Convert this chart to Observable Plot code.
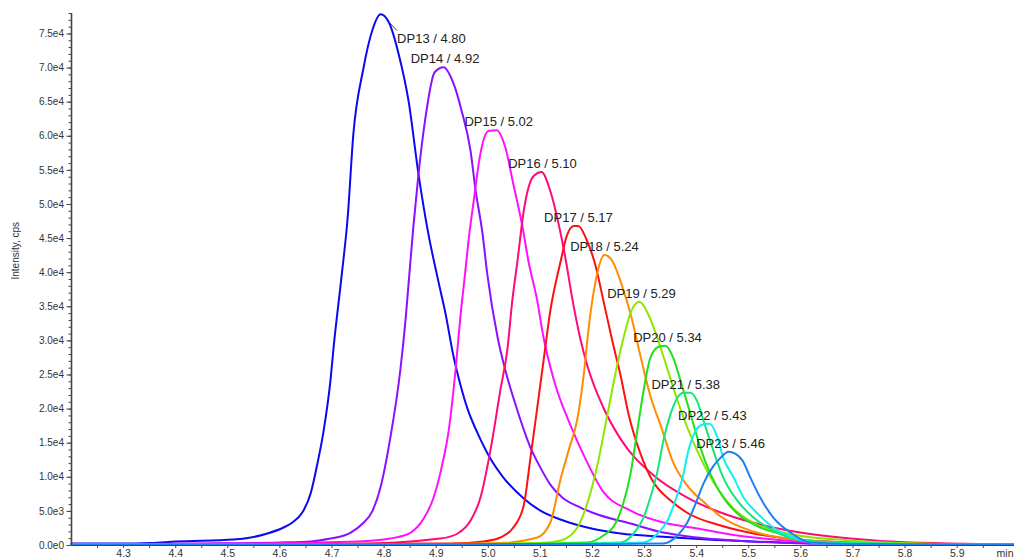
<!DOCTYPE html>
<html>
<head>
<meta charset="utf-8">
<script src="https://cdn.jsdelivr.net/npm/d3@7"></script>
<script src="https://cdn.jsdelivr.net/npm/@observablehq/plot@0.6"></script>
<style>
  html, body { margin: 0; padding: 0; background: #fff; overflow: hidden; }
  #chart svg { display: block; overflow: visible; }
</style>
</head>
<body>
<div id="chart"></div>
<script>
// ---- Series names, colours and retention-time labels ----
const seriesNames = ["DP13","DP14","DP15","DP16","DP17","DP18","DP19","DP20","DP21","DP22","DP23"];
const seriesColors = ["#0a0af0","#8a10ff","#ff10ff","#ff0a78","#ff1010","#ff8c00","#8ee600","#1ee01e","#10e878","#10f0f0","#1e80f0"];
const rtLabels = ["4.80","4.92","5.02","5.10","5.17","5.24","5.29","5.34","5.38","5.43","5.46"];
// label anchor (apex) positions
const apexTime = [4.793, 4.917, 5.020, 5.104, 5.173, 5.223, 5.294, 5.344, 5.379, 5.430, 5.465];
const apexHeight = [77880, 70130, 60900, 54750, 46850, 42600, 35720, 29280, 22400, 17860, 13760];

// ---- Chromatogram traces: [time (min), intensity (cps)] ----
const dp13 = [[4.200,290],[4.294,290],[4.352,370],[4.400,590],[4.511,880],[4.544,1170],[4.576,1760],[4.607,2640],[4.624,3370],[4.643,4830],[4.659,7610],[4.672,12000],[4.684,16840],[4.697,24160],[4.703,28990],[4.718,39240],[4.730,48020],[4.741,60320],[4.760,69830],[4.778,75690],[4.793,77880],[4.810,76570],[4.828,72030],[4.847,65150],[4.866,54460],[4.885,45680],[4.904,38800],[4.918,33960],[4.933,27820],[4.947,23420],[4.960,20060],[4.979,16540],[5.004,12740],[5.029,9960],[5.068,6900],[5.100,5100],[5.144,3660],[5.190,2640],[5.254,1750],[5.336,1300],[5.465,730],[5.599,370],[5.800,220],[6.010,150]];
const dp14 = [[4.200,150],[4.448,290],[4.601,440],[4.659,590],[4.697,1020],[4.736,1900],[4.759,3220],[4.778,5120],[4.793,8490],[4.812,15810],[4.831,25620],[4.841,32940],[4.849,40260],[4.856,46560],[4.866,54460],[4.879,62510],[4.897,69390],[4.914,70130],[4.933,67780],[4.949,63680],[4.966,57830],[4.975,52410],[4.989,45680],[4.998,39820],[5.018,30450],[5.033,25620],[5.056,19760],[5.081,14350],[5.100,11420],[5.119,8930],[5.142,7030],[5.177,5560],[5.210,4540],[5.273,3220],[5.336,1900],[5.402,1170],[5.503,590],[5.657,220],[6.010,150]];
const dp15 = [[4.200,150],[4.544,290],[4.749,590],[4.812,1020],[4.851,1900],[4.876,3950],[4.895,7030],[4.912,12000],[4.924,16840],[4.937,25620],[4.947,33960],[4.956,40260],[4.962,44650],[4.972,50510],[4.983,56660],[5.000,60760],[5.016,60900],[5.033,58270],[5.048,53000],[5.066,46560],[5.077,41720],[5.094,35870],[5.106,30500],[5.125,24500],[5.158,17570],[5.190,12150],[5.219,8050],[5.273,5120],[5.336,3370],[5.402,2490],[5.465,1610],[5.528,1020],[5.593,590],[5.695,220],[6.010,150]];
const dp16 = [[4.200,150],[4.735,220],[4.908,1020],[4.941,1760],[4.966,3660],[4.985,7030],[5.004,13910],[5.023,22690],[5.037,28990],[5.046,35870],[5.056,41720],[5.068,49040],[5.087,54170],[5.102,54750],[5.119,51970],[5.135,47140],[5.148,42160],[5.162,35870],[5.177,30200],[5.190,26400],[5.221,20200],[5.254,15600],[5.317,10300],[5.382,7030],[5.446,4830],[5.522,3070],[5.599,1900],[5.695,1020],[5.791,510],[6.010,150]];
const dp17 = [[4.200,150],[4.927,290],[4.991,590],[5.023,1170],[5.048,2640],[5.068,5860],[5.081,12880],[5.094,20200],[5.106,27080],[5.119,34400],[5.139,41720],[5.150,45240],[5.164,46850],[5.173,46850],[5.188,44940],[5.206,40990],[5.221,35870],[5.238,30010],[5.254,24890],[5.269,19320],[5.292,13470],[5.315,9520],[5.350,6590],[5.384,4690],[5.446,2930],[5.509,1760],[5.574,1020],[5.695,440],[6.010,150]];
const dp18 = [[4.200,150],[4.832,220],[5.023,370],[5.094,1170],[5.119,3370],[5.139,9810],[5.154,13910],[5.171,18590],[5.183,24890],[5.192,31480],[5.206,38800],[5.223,42600],[5.238,41720],[5.258,37770],[5.273,33970],[5.292,27820],[5.311,21960],[5.331,17570],[5.355,12150],[5.382,8780],[5.417,6150],[5.446,4250],[5.509,2050],[5.574,1020],[5.695,440],[6.010,150]];
const dp19 = [[4.200,150],[4.927,220],[5.100,370],[5.139,730],[5.171,2640],[5.190,6150],[5.210,12000],[5.229,19330],[5.248,26650],[5.263,31480],[5.273,34110],[5.290,35720],[5.307,33900],[5.325,30300],[5.340,26800],[5.363,21300],[5.382,17300],[5.407,12900],[5.432,9300],[5.471,5400],[5.509,3300],[5.574,1760],[5.695,730],[5.830,290],[6.010,150]];
const dp20 = [[4.200,150],[5.023,220],[5.190,440],[5.221,1460],[5.244,3220],[5.259,6150],[5.273,10540],[5.286,16840],[5.298,22690],[5.311,27520],[5.327,29130],[5.340,29280],[5.355,27520],[5.369,24160],[5.388,19330],[5.407,14350],[5.426,10540],[5.451,7030],[5.478,4690],[5.522,2640],[5.574,1460],[5.638,440],[5.800,220],[6.010,150]];
const dp21 = [[4.200,150],[5.100,220],[5.254,440],[5.279,1760],[5.298,4100],[5.311,7030],[5.325,10980],[5.336,15370],[5.350,19330],[5.363,21670],[5.375,22400],[5.388,22400],[5.402,20940],[5.413,18300],[5.432,13910],[5.451,9960],[5.478,6590],[5.509,4100],[5.547,2200],[5.605,730],[5.800,220],[6.010,150]];
const dp22 = [[4.200,150],[5.150,220],[5.298,440],[5.325,1760],[5.344,3660],[5.359,6590],[5.373,9960],[5.384,13910],[5.398,16840],[5.411,17710],[5.425,17860],[5.440,15810],[5.451,12880],[5.471,9960],[5.490,7030],[5.517,4690],[5.547,2640],[5.586,1170],[5.638,290],[6.010,150]];
const dp23 = [[4.200,150],[5.200,220],[5.336,290],[5.363,1460],[5.382,3370],[5.398,6150],[5.413,9080],[5.430,11420],[5.446,12880],[5.461,13760],[5.474,13470],[5.488,12440],[5.503,9960],[5.522,7030],[5.547,4100],[5.580,1900],[5.618,440],[5.695,220],[6.010,150]];

// ---- Axis ticks ----
const xTicks = [4.3,4.4,4.5,4.6,4.7,4.8,4.9,5.0,5.1,5.2,5.3,5.4,5.5,5.6,5.7,5.8,5.9];
const xMinorTicks = [4.25,4.35,4.45,4.55,4.65,4.75,4.85,4.95,5.05,5.15,5.25,5.35,5.45,5.55,5.65,5.75,5.85,5.95];
const yTicks = [0,5000,10000,15000,20000,25000,30000,35000,40000,45000,50000,55000,60000,65000,70000,75000];
const yMinorTicks = d3.range(0, 78001, 1000);

const traces = [dp13, dp14, dp15, dp16, dp17, dp18, dp19, dp20, dp21, dp22, dp23];
const rows = traces.flatMap((tr, i) => tr.map(([t, v]) => ({name: seriesNames[i], t, v})));
const peaks = seriesNames.map((n, i) => ({name: n, t: apexTime[i], v: apexHeight[i], label: `${n} / ${rtLabels[i]}`}));

const fmtY = d => d3.format(".1e")(d).replace("+", "");
const font = "Liberation Sans, Arial, sans-serif";

const chart = Plot.plot({
  width: 1014,
  height: 560,
  marginLeft: 71,
  marginRight: 0,
  marginTop: 13,
  marginBottom: 15,
  style: {fontFamily: font, color: "#333", background: "#fff"},
  x: {domain: [4.2, 6.01]},
  y: {domain: [0, 78000], range: [545, 13]},
  color: {domain: seriesNames, range: seriesColors},
  marks: [
    Plot.axisY({ticks: yMinorTicks, tickSize: 2.5, text: null, label: null, stroke: "#444"}),
    Plot.axisY({ticks: yTicks, tickSize: 4.5, tickPadding: 3, tickFormat: fmtY, fontSize: 10, label: null, stroke: "#444"}),
    Plot.axisX({ticks: xMinorTicks, tickSize: 3, text: null, label: null, stroke: "#444"}),
    Plot.axisX({ticks: xTicks, tickSize: 3, tickPadding: 1, tickFormat: ".1f", fontSize: 10.5, label: null, stroke: "#444"}),
    Plot.line(rows, {x: "t", y: "v", z: "name", stroke: "name", strokeWidth: 2, curve: "monotone-x"}),
    Plot.ruleX([4.2], {stroke: "#444", strokeWidth: 1.6}),
    Plot.ruleY([0], {stroke: "#444", strokeWidth: 1.2}),
    Plot.text(peaks.slice(1), {x: "t", y: "v", text: "label", textAnchor: "middle", lineAnchor: "middle", dy: -8, fontSize: 13, fill: "#222"}),
    Plot.text(peaks.slice(0, 1), {x: "t", y: "v", text: "label", textAnchor: "middle", lineAnchor: "middle", dx: 51, dy: 25, fontSize: 13, fill: "#222"}),
    Plot.text(["Intensity, cps"], {frameAnchor: "left", rotate: -90, dx: -56, fontSize: 10, fill: "#333"}),
    Plot.text(["min"], {frameAnchor: "bottom-right", textAnchor: "end", lineAnchor: "top", dx: -1, dy: 4, fontSize: 10.5, fill: "#333"})
  ]
});

document.getElementById("chart").appendChild(chart);
// leader line from DP13 apex toward its label, positioned through the chart's scales
const sx = chart.scale("x"), sy = chart.scale("y");
d3.select(chart).append("line")
  .attr("x1", sx.apply(4.810)).attr("y1", sy.apply(76700))
  .attr("x2", sx.apply(4.826)).attr("y2", sy.apply(75400))
  .attr("stroke", "#444").attr("stroke-width", 1);
</script>
</body>
</html>
